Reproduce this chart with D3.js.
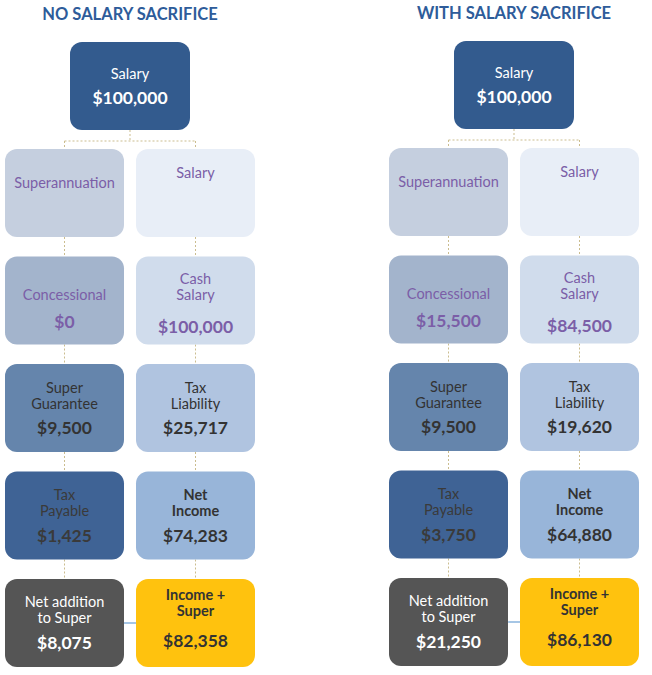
<!DOCTYPE html>
<html><head><meta charset="utf-8">
<script src="https://cdn.jsdelivr.net/npm/d3@7"></script>
<style>body{margin:0;background:#fff}text{font-family:Lato,"Open Sans",sans-serif}</style>
</head><body><svg id="c" width="652" height="675"></svg>
<script>
const panels = ["NO SALARY SACRIFICE", "WITH SALARY SACRIFICE"];
const topValues = ["$100,000", "$100,000"];
const leftLabels = [["Superannuation"], ["Concessional"], ["Super", "Guarantee"], ["Tax", "Payable"], ["Net addition", "to Super"]];
const rightLabels = [["Salary"], ["Cash", "Salary"], ["Tax", "Liability"], ["Net", "Income"], ["Income +", "Super"]];
const leftValuesNo = [null, "$0", "$9,500", "$1,425", "$8,075"];
const rightValuesNo = [null, "$100,000", "$25,717", "$74,283", "$82,358"];
const leftValuesWith = [null, "$15,500", "$9,500", "$3,750", "$21,250"];
const rightValuesWith = [null, "$84,500", "$19,620", "$64,880", "$86,130"];
const leftFill = ["#c5cfdf", "#a3b4cc", "#6585ac", "#3f6395", "#555555"];
const rightFill = ["#e8eef7", "#d0dcec", "#b0c4e0", "#98b5d9", "#ffc20e"];
const leftText = ["#7b5ea7", "#7b5ea7", "#333", "#3a3a3a", "#fff"];
const rightText = ["#7b5ea7", "#7b5ea7", "#333", "#333", "#333"];
const leftLabelY = [[34], [38], [24, 40], [23, 39], [23, 39]];
const rightLabelY = [[24], [22, 38], [24, 40], [23, 39], [16, 32]];
const leftValY = [0, 65, 64, 64, 64];
const rightValY = [0, 70, 64, 64, 62];

const svg = d3.select("#c");
const px = d3.scaleOrdinal().domain(panels).range([5, 389]);
const py = d3.scaleOrdinal().domain(panels).range([0, -1]);
const rowY = d3.scaleLinear().domain([0, 1]).range([149, 256.5]);
const colW = 119, colGap = 12, boxH = 88;
const dash = "#cbbd8f";

panels.forEach((p, pi) => {
  const g = svg.append("g").attr("transform", `translate(${px(p)},${py(p)})`);
  const lv = pi ? leftValuesWith : leftValuesNo;
  const rv = pi ? rightValuesWith : rightValuesNo;
  const cx = (colW * 2 + colGap) / 2;
  const lcx = colW / 2, rcx = colW + colGap + colW / 2;
  g.append("text").attr("x", cx).attr("y", 20).attr("text-anchor", "middle")
    .attr("font-size", 16.5).attr("font-weight", 700).attr("fill", "#2e5c9a").text(p);
  // connectors
  const line = (x1, y1, x2, y2) => g.append("line").attr("x1", x1).attr("y1", y1).attr("x2", x2).attr("y2", y2)
    .attr("stroke", dash).attr("stroke-width", 1).attr("stroke-dasharray", "2,2");
  line(cx, 130, cx, 141); line(lcx, 141, rcx, 141); line(lcx, 141, lcx, 149); line(rcx, 141, rcx, 149);
  for (let i = 0; i < 4; i++) {
    line(lcx, rowY(i) + boxH, lcx, rowY(i + 1));
    line(rcx, rowY(i) + boxH, rcx, rowY(i + 1));
  }
  g.append("line").attr("x1", colW).attr("x2", colW + colGap).attr("y1", rowY(4) + 44).attr("y2", rowY(4) + 44)
    .attr("stroke", "#6a9fd4").attr("stroke-width", 1.2);
  // top box
  g.append("rect").attr("x", 65).attr("y", 42).attr("width", 120).attr("height", 88).attr("rx", 12).attr("fill", "#335b8e");
  g.append("text").attr("x", 125).attr("y", 79).attr("text-anchor", "middle").attr("font-size", 14.5).attr("fill", "#fff").text("Salary");
  g.append("text").attr("x", 125).attr("y", 104).attr("text-anchor", "middle").attr("font-size", 17.5).attr("font-weight", 700).attr("fill", "#fff").text(topValues[pi]);
  const drawCol = (x0, labels, vals, fills, tcols, ly, vy) => {
    labels.forEach((lab, i) => {
      const y0 = rowY(i);
      g.append("rect").attr("x", x0).attr("y", y0).attr("width", colW).attr("height", boxH).attr("rx", 12).attr("fill", fills[i]);
      lab.forEach((t, j) => g.append("text").attr("x", x0 + colW / 2).attr("y", y0 + ly[i][j] + 5)
        .attr("text-anchor", "middle").attr("font-size", 14.5).attr("fill", tcols[i])
        .attr("font-weight", i >= 3 && x0 > 0 && i == 3 ? 700 : (i == 4 && x0 > 0 ? 700 : 400)).text(t));
      if (vals[i]) g.append("text").attr("x", x0 + colW / 2).attr("y", y0 + vy[i] + 6)
        .attr("text-anchor", "middle").attr("font-size", 17.5).attr("font-weight", 700).attr("fill", tcols[i]).text(vals[i]);
    });
  };
  drawCol(0, leftLabels, lv, leftFill, leftText, leftLabelY, leftValY);
  drawCol(colW + colGap, rightLabels, rv, rightFill, rightText, rightLabelY, rightValY);
});
</script></body></html>
